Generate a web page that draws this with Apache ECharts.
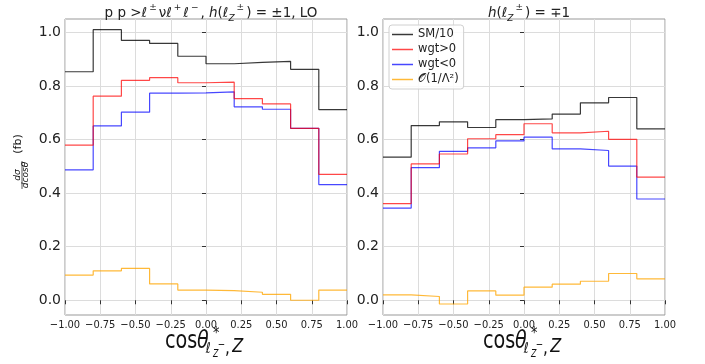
<!DOCTYPE html>
<html>
<head>
<meta charset="utf-8">
<script src="https://cdn.jsdelivr.net/npm/echarts@6/dist/echarts.min.js"></script>
<style>
html, body { margin: 0; padding: 0; background: #fff; }
#chart { width: 705px; height: 364px; }
</style>
</head>
<body>
<div id="chart"></div>
<script>
// bin edges of the cos(theta) histogram and tick labels
const binEdges = [-1.0, -0.8, -0.6, -0.4, -0.2, 0.0, 0.2, 0.4, 0.6, 0.8, 1.0];
const xTicks = [-1.0, -0.75, -0.5, -0.25, 0.0, 0.25, 0.5, 0.75, 1.0];
const yTicks = [0.0, 0.2, 0.4, 0.6, 0.8, 1.0];
const seriesNames = ["SM/10", "wgt>0", "wgt<0", "\u{1D4AA}(1/\u039B\u00B2)"];

// left panel: h = ±1
const leftSM = [0.853, 1.010, 0.970, 0.959, 0.911, 0.883, 0.888, 0.892, 0.862, 0.712];
const leftPos = [0.579, 0.762, 0.821, 0.831, 0.812, 0.814, 0.753, 0.733, 0.642, 0.470];
const leftNeg = [0.487, 0.651, 0.702, 0.773, 0.774, 0.778, 0.722, 0.713, 0.642, 0.432];
const leftDim6 = [0.094, 0.110, 0.119, 0.061, 0.038, 0.036, 0.030, 0.022, 0.000, 0.038];

// right panel: h = ∓1
const rightSM = [0.534, 0.652, 0.666, 0.645, 0.674, 0.677, 0.695, 0.737, 0.757, 0.640];
const rightPos = [0.361, 0.509, 0.546, 0.603, 0.618, 0.659, 0.625, 0.631, 0.601, 0.460];
const rightNeg = [0.344, 0.495, 0.556, 0.569, 0.595, 0.609, 0.565, 0.559, 0.501, 0.378];
const rightDim6 = [0.020, 0.014, -0.014, 0.035, 0.019, 0.049, 0.060, 0.071, 0.100, 0.080];

const colors = ["rgba(0,0,0,0.78)", "rgba(255,0,0,0.72)", "rgba(0,0,255,0.72)", "rgba(255,165,0,0.78)"];

const chart = echarts.init(document.getElementById("chart"));

function stepData(vals) {
    return binEdges.map((x, i) => [x, vals[Math.min(i, vals.length - 1)]]);
}

function makeSeries(vals, idx, axisIdx) {
    return {
        name: seriesNames[idx],
        type: "line",
        step: "end",
        xAxisIndex: axisIdx,
        yAxisIndex: axisIdx,
        data: stepData(vals),
        symbol: "none",
        lineStyle: { color: colors[idx], width: 1.2 },
        itemStyle: { color: colors[idx] },
        z: 10 - idx,
    };
}

function fmtX(v) {
    const s = Math.abs(v).toFixed(2);
    return v < 0 ? "\u2212" + s : s;
}

function xAxisCfg(gi) {
    return {
        type: "value",
        gridIndex: gi,
        min: -1,
        max: 1,
        interval: 0.25,
        axisLine: { show: false },
        axisTick: { show: true, length: 4, lineStyle: { color: "#333" } },
        axisLabel: {
            formatter: fmtX,
            fontFamily: "DejaVu Sans Condensed, DejaVu Sans",
            fontSize: 11,
            color: "#222",
            margin: 5,
        },
        splitLine: { show: true, lineStyle: { color: "#dcdcdc", width: 1 } },
    };
}

function yAxisCfg(gi) {
    return {
        type: "value",
        gridIndex: gi,
        min: -0.055,
        max: 1.05,
        axisLine: { show: false },
        axisTick: { show: true, length: 4, customValues: yTicks, lineStyle: { color: "#333" } },
        axisLabel: {
            customValues: yTicks,
            formatter: (v) => v.toFixed(1),
            fontFamily: "DejaVu Sans",
            fontSize: 14,
            color: "#222",
            margin: 4,
        },
        splitLine: { show: true, lineStyle: { color: "#dcdcdc", width: 1 } },
    };
}

const base = { fontFamily: "DejaVu Sans", fontWeight: "normal", color: "#222" };
const titleRich = {
    n: Object.assign({ fontSize: 13.5 }, base),
    i: Object.assign({ fontSize: 13.5, fontStyle: "italic" }, base),
    sup: Object.assign({ fontSize: 9, verticalAlign: "top", lineHeight: 20, padding: [0, 2, 0, 2] }, base),
    sub: Object.assign({ fontSize: 9, fontStyle: "italic", verticalAlign: "bottom", lineHeight: 20 }, base),
};

function xName(left) {
    const font = "DejaVu Sans";
    const t = (x, y, text, f) => ({
        type: "text", x: x, y: y,
        style: { text: text, font: f, fill: "#111", verticalAlign: "middle" },
    });
    return {
        type: "group",
        x: left,
        y: 0,
        scaleX: 0.8,
        children: [
            t(0, 342, "cos", "24px " + font),
            t(40, 342, "\u03B8", "italic 24px " + font),
            t(60, 334, "*", "16px " + font),
            t(51, 349, "\u2113", "italic 15px " + font),
            t(60, 354, "Z", "italic 10px " + font),
            t(66, 345, "\u2212", "11px " + font),
            t(75, 349, ",", "19px " + font),
            t(84, 347, "Z", "italic 20px " + font),
        ],
    };
}

const yName = {
    type: "group",
    x: 22,
    y: 175,
    rotation: Math.PI / 2,
    children: [
        { type: "text", x: 0, y: -4.5, style: { text: "d\u03C3", font: "italic 9px DejaVu Sans", fill: "#111", align: "center", verticalAlign: "middle" } },
        { type: "line", shape: { x1: -14, y1: 0, x2: 14, y2: 0 }, style: { stroke: "#111", lineWidth: 0.7 } },
        { type: "text", x: 0, y: 4, style: { text: "dcos\u03B8", font: "italic 9px DejaVu Sans", fill: "#111", align: "center", verticalAlign: "middle" } },
        { type: "text", x: 31, y: -4, style: { text: "(fb)", font: "11px DejaVu Sans", fill: "#111", align: "center", verticalAlign: "middle" } },
    ],
};

const option = {
    animation: false,
    backgroundColor: "#fff",
    title: [
        {
            text: "{n|p p >\u2113}{sup|\u00B1}{n|\u03BD\u2113}{sup|+}{n|\u2113}{sup|\u2212}{n|, }{i|h}{n|(\u2113}{sub|Z}{sup|\u00B1}{n|) = \u00B11, LO}",
            left: 206,
            top: -2,
            textAlign: "center",
            textStyle: { fontWeight: "normal", rich: titleRich },
        },
        {
            text: "{i|h}{n|(\u2113}{sub|Z}{sup|\u00B1}{n|) = \u22131}",
            left: 524,
            top: -2,
            textAlign: "center",
            textStyle: { fontWeight: "normal", rich: titleRich },
        },
    ],
    legend: {
        data: seriesNames,
        orient: "vertical",
        left: 389,
        top: 25,
        icon: "rect",
        itemWidth: 21,
        itemHeight: 1.5,
        itemGap: 2,
        padding: [3, 5, 3, 3],
        backgroundColor: "rgba(255,255,255,0.85)",
        borderColor: "#d0d0d0",
        borderWidth: 1,
        borderRadius: 3,
        textStyle: { fontFamily: "DejaVu Sans", fontSize: 11.5, color: "#222", lineHeight: 13 },
    },
    grid: [
        { left: 65, right: 358, top: 19, bottom: 49, show: true, borderColor: "#999", borderWidth: 1, backgroundColor: "transparent" },
        { left: 383, right: 40, top: 19, bottom: 49, show: true, borderColor: "#999", borderWidth: 1, backgroundColor: "transparent" },
    ],
    xAxis: [xAxisCfg(0), xAxisCfg(1)],
    yAxis: [yAxisCfg(0), yAxisCfg(1)],
    series: [
        makeSeries(leftSM, 0, 0),
        makeSeries(leftPos, 1, 0),
        makeSeries(leftNeg, 2, 0),
        makeSeries(leftDim6, 3, 0),
        makeSeries(rightSM, 0, 1),
        makeSeries(rightPos, 1, 1),
        makeSeries(rightNeg, 2, 1),
        makeSeries(rightDim6, 3, 1),
    ],
    graphic: [xName(165), xName(483), yName],
};

chart.setOption(option);
</script>
</body>
</html>
